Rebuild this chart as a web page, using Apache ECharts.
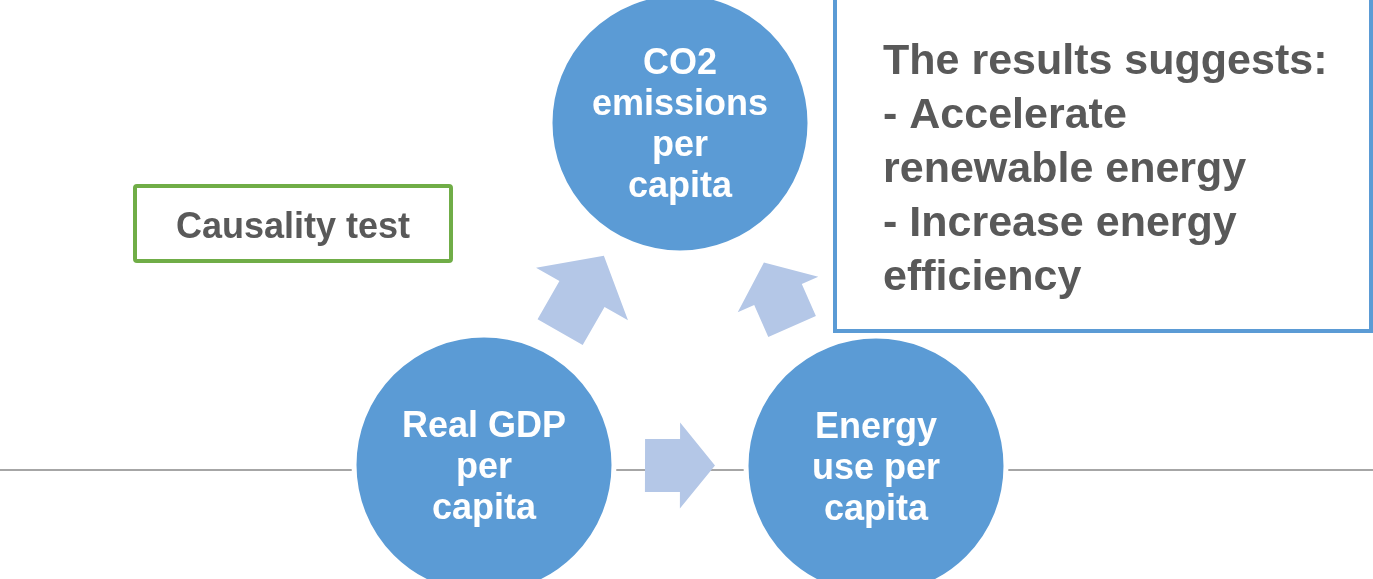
<!DOCTYPE html>
<html>
<head>
<meta charset="utf-8">
<script src="https://cdn.jsdelivr.net/npm/echarts@6/dist/echarts.min.js"></script>
<style>
  html, body { margin: 0; padding: 0; background: #ffffff; }
  #main { width: 1373px; height: 579px; }
</style>
</head>
<body>
<div id="main"></div>
<script>
// diagram nodes (centre positions in the diagram's own units)
const nodeNames = ['CO2\nemissions\nper\ncapita', 'Real GDP\nper\ncapita', 'Energy\nuse per\ncapita'];
const nodeX = [680, 484, 876];
const nodeY = [123, 465, 466];

// causal links: [from node, to node]
const links = [[1, 0], [2, 0], [1, 2]];

// horizontal rule through the lower row
const axisXMin = 0;
const axisXMax = 1373;
const baselineY = 470;

const noteTitle = 'Causality test';
const resultLines = ['The results suggests:', '- Accelerate', 'renewable energy', '- Increase energy', 'efficiency'];

// arrow shapes per link (length, head length, head width, shaft width, extra turn in degrees)
const arrowShape = [
  { len: 88, head: 44, headW: 106, shaftW: 52, turn: 0 },
  { len: 70, head: 35, headW: 88, shaftW: 52, turn: 6 },
  { len: 70, head: 35, headW: 86, shaftW: 53, turn: 0 }
];

const textFont = '"Liberation Sans", Arial, sans-serif';

function renderArrow(params, api) {
  const i = params.dataIndex;
  const a = api.coord([nodeX[api.value(0)], nodeY[api.value(0)]]);
  const b = api.coord([nodeX[api.value(1)], nodeY[api.value(1)]]);
  const sh = arrowShape[i];
  const ang = Math.atan2(b[1] - a[1], b[0] - a[0]) + sh.turn * Math.PI / 180;
  const ux = Math.cos(ang), uy = Math.sin(ang);
  const vx = -uy, vy = ux;
  const cx = (a[0] + b[0]) / 2, cy = (a[1] + b[1]) / 2;
  const L = sh.len / 2, n = sh.len / 2 - sh.head;
  const s = sh.shaftW / 2, h = sh.headW / 2;
  const local = [[-L, -s], [n, -s], [n, -h], [L, 0], [n, h], [n, s], [-L, s]];
  const points = local.map(p => [cx + p[0] * ux + p[1] * vx, cy + p[0] * uy + p[1] * vy]);
  return {
    type: 'polygon',
    shape: { points: points },
    style: { fill: '#b4c7e7' }
  };
}

const chart = echarts.init(document.getElementById('main'));

const option = {
  animation: false,
  grid: { left: 0, right: 0, top: 0, bottom: 0 },
  xAxis: { type: 'value', min: axisXMin, max: axisXMax, show: false },
  yAxis: { type: 'value', min: 0, max: 579, inverse: true, show: false },
  series: [
    {
      type: 'line',
      z: 1,
      silent: true,
      showSymbol: false,
      data: [[axisXMin, baselineY], [axisXMax, baselineY]],
      lineStyle: { color: '#a6a6a6', width: 2 }
    },
    {
      type: 'custom',
      z: 2,
      silent: true,
      renderItem: renderArrow,
      data: links
    },
    {
      type: 'scatter',
      z: 3,
      silent: true,
      symbol: 'circle',
      symbolSize: 260,
      data: nodeX.map((x, i) => ({ name: nodeNames[i], value: [x, nodeY[i]] })),
      itemStyle: { color: '#5b9bd5', borderColor: '#ffffff', borderWidth: 5, opacity: 1 },
      label: {
        show: true,
        position: 'inside',
        offset: [0, 3],
        formatter: p => p.name,
        color: '#ffffff',
        fontFamily: textFont,
        fontWeight: 'bold',
        fontSize: 36,
        lineHeight: 41,
        align: 'center'
      }
    }
  ],
  graphic: [
    {
      type: 'rect',
      shape: { x: 135, y: 186, width: 316, height: 75, r: 2 },
      style: { fill: '#ffffff', stroke: '#70ad47', lineWidth: 4 }
    },
    {
      type: 'text',
      x: 293,
      y: 228,
      style: {
        text: noteTitle,
        font: 'bold 36px ' + textFont,
        fill: '#595959',
        align: 'center',
        verticalAlign: 'middle'
      }
    },
    {
      type: 'rect',
      shape: { x: 835, y: -10, width: 536, height: 341 },
      style: { fill: '#ffffff', stroke: '#5b9bd5', lineWidth: 4 }
    },
    {
      type: 'text',
      x: 883,
      y: 35,
      style: {
        text: resultLines.join('\n'),
        font: 'bold 43px ' + textFont,
        lineHeight: 54,
        fill: '#595959',
        align: 'left',
        verticalAlign: 'top'
      }
    }
  ]
};

chart.setOption(option);
</script>
</body>
</html>
